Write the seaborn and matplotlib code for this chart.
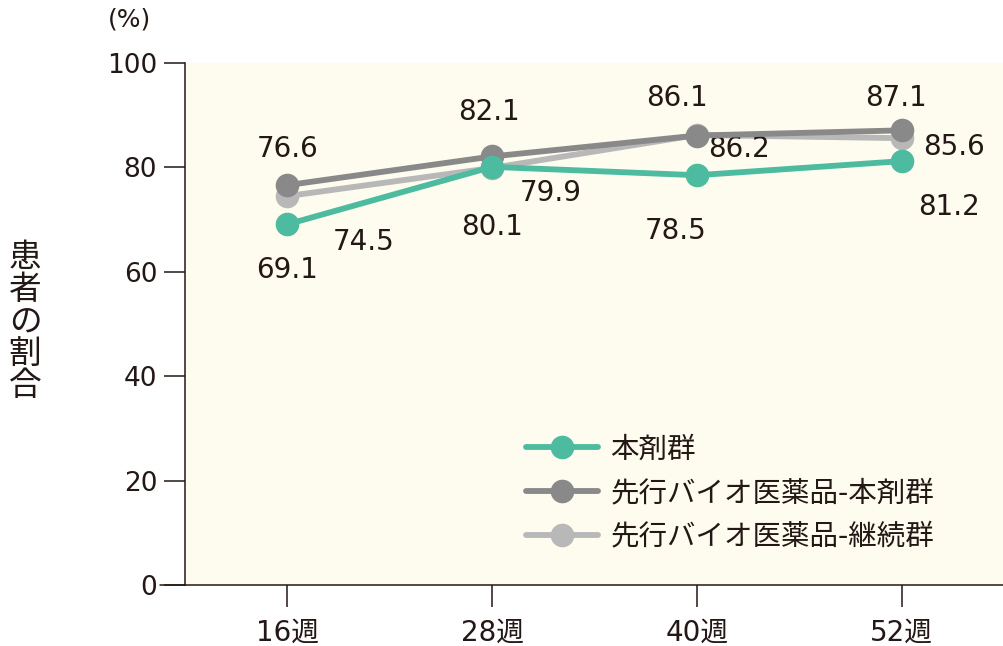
import matplotlib
matplotlib.use("Agg")
import matplotlib.pyplot as plt
import seaborn as sns
import pandas as pd

weeks = ["16週", "28週", "40週", "52週"]
series_names = ["本剤群", "先行バイオ医薬品-本剤群", "先行バイオ医薬品-継続群"]
vals_hon = [69.1, 80.1, 78.5, 81.2]
vals_sen_hon = [76.6, 82.1, 86.1, 87.1]
vals_sen_kei = [74.5, 79.9, 86.2, 85.6]
colors = ["#4dbba0", "#898989", "#b8b8b8"]
yticks = [0, 20, 40, 60, 80, 100]

sns.set_theme(style="white")
plt.rcParams["font.family"] = ["DejaVu Sans", "Noto Sans CJK JP"]
TXT = "#231815"

rows = []
for name, vals in zip(series_names, [vals_hon, vals_sen_hon, vals_sen_kei]):
    for i, (w, v) in enumerate(zip(weeks, vals)):
        rows.append({"week": w, "x": i, "value": v, "series": name})
df = pd.DataFrame(rows)

fig = plt.figure(figsize=(10.04, 6.46), dpi=100)
ax = fig.add_axes([185/1004, 1-585/646, 1-185/1004, (585-63)/646])
ax.set_facecolor("#fefcee")

order = [2, 1, 0]
for k in order:
    sub = df[df["series"] == series_names[k]]
    sns.lineplot(data=sub, x="x", y="value", ax=ax, color=colors[k], linewidth=4.2,
                 marker="o", markersize=17, markeredgewidth=0, label=series_names[k],
                 zorder=3 + (2 - k))

ax.set_xlim(-0.5, 3.5)
ax.set_ylim(0, 100)
ax.set_xticks(range(len(weeks)))
ax.set_xticklabels(weeks)
ax.set_yticks(yticks)
ax.set_yticklabels([str(t) for t in yticks])
ax.tick_params(axis="both", bottom=True, left=True, labelsize=19, colors=TXT,
               length=15, width=1.1, direction="out")
ax.tick_params(axis="x", length=16, pad=8, labelsize=20)
ax.tick_params(axis="y", pad=5)
ax.set_xlabel("")
ax.set_ylabel("")
for s in ["top", "right"]:
    ax.spines[s].set_visible(False)
for s in ["left", "bottom"]:
    ax.spines[s].set_color(TXT)
    ax.spines[s].set_linewidth(1.1)
ax.plot([-0.03, 0], [0, 0], transform=ax.transAxes, color=TXT, lw=1.1, clip_on=False)

label_specs = [
    (vals_hon, [(0, -33), (0, -43), (-15, -40), (34, -33)]),
    (vals_sen_hon, [(0, 26), (-2, 32), (-14, 27), (-4, 23)]),
    (vals_sen_kei, [(55, -33), (42, -18), (30, -10), (38, -6)]),
]
for vals, offs in label_specs:
    for i, (v, off) in enumerate(zip(vals, offs)):
        ax.annotate(f"{v:.1f}", (i, v), xytext=off, textcoords="offset points",
                    ha="center", va="center", fontsize=20, color=TXT)

fig.text(130/1004, 1-20/646, "(%)", ha="center", va="center", fontsize=18, color=TXT)
fig.text(25/1004, 1-322/646, "患\n者\nの\n割\n合", ha="center", va="center", fontsize=23.5,
         color=TXT, linespacing=1.0, family=["Noto Sans CJK JP"])

handles, labels = ax.get_legend_handles_labels()
idx = [labels.index(n) for n in series_names]
leg = ax.legend([handles[i] for i in idx], [labels[i] for i in idx],
                loc="upper left", bbox_to_anchor=(330/819, 1-(424-63)/522),
                frameon=False, fontsize=20.5, handlelength=2.5, labelspacing=0.55,
                handletextpad=0.45, borderaxespad=0)
for t in leg.get_texts():
    t.set_color(TXT)

fig.savefig("out.png", dpi=100)
